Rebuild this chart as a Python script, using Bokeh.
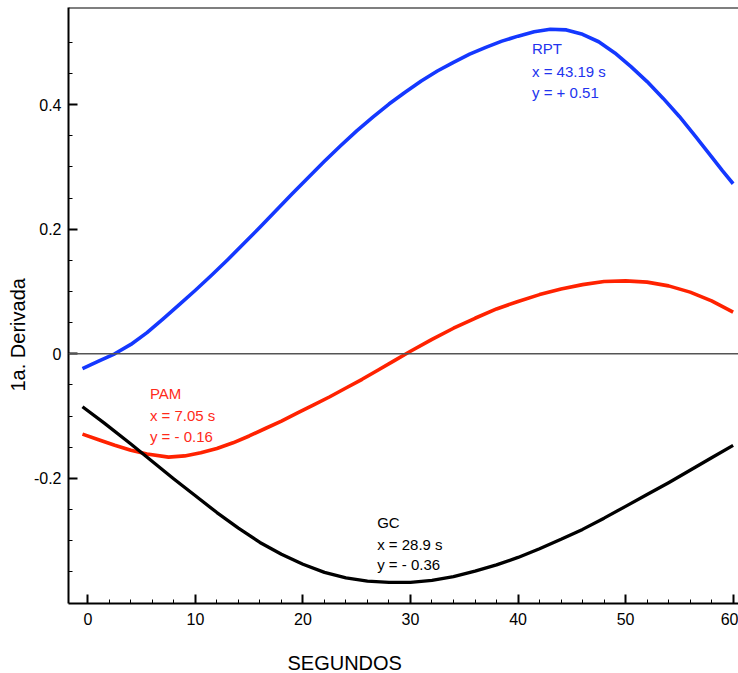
from bokeh.plotting import figure
from bokeh.models import FixedTicker, Span, Label, Title, Range1d
from bokeh.embed import file_html
from bokeh.resources import INLINE

# ---- data ----
rpt_x = [-0.5, 1, 2.5, 4, 5.5, 7, 8.5, 10, 11.5, 13, 14.5, 16, 17.5, 19, 20.5, 22, 23.5,
         25, 26.5, 28, 29.5, 31, 32.5, 34, 35.5, 37, 38.5, 40, 41.5, 43, 44.5, 46, 47.5,
         49, 50.5, 52, 53.5, 55, 56.5, 58, 59, 60]
rpt_y = [-0.024, -0.012, 0.0, 0.015, 0.034, 0.056, 0.079, 0.102, 0.126, 0.151, 0.177,
         0.203, 0.230, 0.257, 0.283, 0.309, 0.334, 0.358, 0.380, 0.401, 0.420, 0.438,
         0.454, 0.468, 0.481, 0.492, 0.502, 0.510, 0.517, 0.521, 0.520, 0.513, 0.501,
         0.483, 0.461, 0.437, 0.410, 0.381, 0.349, 0.316, 0.294, 0.273]

pam_x = [-0.5, 1, 2.5, 4, 5.5, 7.5, 9, 10.5, 12, 13.5, 15, 16.5, 18, 19.5, 21, 22.5, 24,
         25.5, 27, 28.5, 30, 32, 34, 36, 38, 40, 42, 44, 46, 48, 50, 52, 54, 56, 58, 60]
pam_y = [-0.129, -0.138, -0.147, -0.155, -0.161, -0.166, -0.164, -0.159, -0.152, -0.143,
         -0.132, -0.120, -0.108, -0.095, -0.082, -0.069, -0.055, -0.041, -0.026, -0.011,
         0.004, 0.023, 0.041, 0.057, 0.072, 0.084, 0.095, 0.104, 0.111, 0.116, 0.117,
         0.115, 0.109, 0.099, 0.085, 0.067]

gc_x = [-0.5, 1.5, 4, 6, 8, 10, 12, 14, 16, 18, 20, 22, 24, 26, 28, 30, 32, 34, 36, 38,
        40, 42, 44, 46, 48, 50, 52, 54, 56, 58, 60]
gc_y = [-0.085, -0.111, -0.145, -0.173, -0.201, -0.228, -0.255, -0.280, -0.303, -0.322,
        -0.338, -0.351, -0.360, -0.365, -0.367, -0.367, -0.364, -0.358, -0.349, -0.339,
        -0.327, -0.313, -0.298, -0.282, -0.264, -0.245, -0.226, -0.207, -0.187, -0.167,
        -0.147]

x_ticks = [0, 10, 20, 30, 40, 50, 60]
x_minor = [v for v in range(2, 61, 2) if v % 10 != 0]
y_ticks = [-0.2, 0, 0.2, 0.4]
y_tick_labels = {-0.2: "-0.2", 0: "0", 0.2: "0.2", 0.4: "0.4"}
y_minor = [-0.35, -0.3, -0.25, -0.15, -0.1, -0.05, 0.05, 0.1, 0.15, 0.25, 0.3, 0.35, 0.45, 0.5]

rpt_note = ["RPT", "x = 43.19 s", "y = + 0.51"]
pam_note = ["PAM", "x = 7.05 s", "y = - 0.16"]
gc_note = ["GC", "x = 28.9 s", "y = - 0.36"]
x_title = "SEGUNDOS"
y_title = "1a. Derivada"

FONT = "Liberation Sans"
BLUE = "#1438ff"
RED = "#ff2200"
Y0, Y1 = -0.401, 0.556

p = figure(width=738, height=673, output_backend="svg", toolbar_location=None,
           x_range=Range1d(-1.8, 60.5), y_range=Range1d(Y0, Y1),
           min_border_left=68, min_border_right=0, min_border_top=7, min_border_bottom=69)
p.outline_line_color = None
p.xgrid.visible = False
p.ygrid.visible = False
p.background_fill_color = "white"
p.border_fill_color = "white"

for ax in (p.xaxis[0], p.yaxis[0]):
    ax.axis_line_width = 2
    ax.axis_line_color = "black"
    ax.major_tick_in = 9
    ax.major_tick_out = 0
    ax.minor_tick_in = 4
    ax.minor_tick_out = 0
    ax.major_tick_line_width = 2
    ax.minor_tick_line_width = 1
    ax.major_label_text_font = FONT
    ax.major_label_text_font_size = "16px"
    ax.major_label_text_color = "black"

p.xaxis.ticker = FixedTicker(ticks=x_ticks, minor_ticks=x_minor)
p.yaxis.ticker = FixedTicker(ticks=y_ticks, minor_ticks=y_minor)
p.yaxis.major_label_overrides = y_tick_labels
p.xaxis.major_label_standoff = 9
p.yaxis.major_label_standoff = 7
# invisible spacer label so the x title sits lower
p.xaxis.axis_label = " "
p.xaxis.axis_label_text_font_size = "1px"
p.xaxis.axis_label_standoff = 18

# zero line and top border
p.add_layout(Span(location=0, dimension="width", line_color="#555555", line_width=1.5))
p.add_layout(Span(location=Y1, dimension="width", line_color="black", line_width=2))

p.line(rpt_x, rpt_y, line_color=BLUE, line_width=3.6, line_join="round")
p.line(pam_x, pam_y, line_color=RED, line_width=3.6, line_join="round")
p.line(gc_x, gc_y, line_color="black", line_width=3.3, line_join="round")

def note(lines, x, ys, color):
    for t, yy in zip(lines, ys):
        p.add_layout(Label(x=x, y=yy, text=t, text_font=FONT, text_font_size="15px",
                           text_color=color, text_baseline="middle", text_align="left"))

note(rpt_note, 41.3, [0.490, 0.4534, 0.4198], "#2233ee")
note(pam_note, 5.77, [-0.0630, -0.0999, -0.1331], "#ff2a1a")
note(gc_note, 26.9, [-0.2711, -0.3068, -0.3389], "black")

p.add_layout(Title(text=x_title, align="left", offset=219, text_font=FONT,
                   text_font_size="20px", text_font_style="normal", text_color="black",
                   standoff=0), "below")
p.add_layout(Title(text=y_title, align="left", offset=212, text_font=FONT,
                   text_font_size="20px", text_font_style="normal", text_color="black",
                   standoff=4), "left")

open("out.html", "w").write(file_html(p, INLINE))
